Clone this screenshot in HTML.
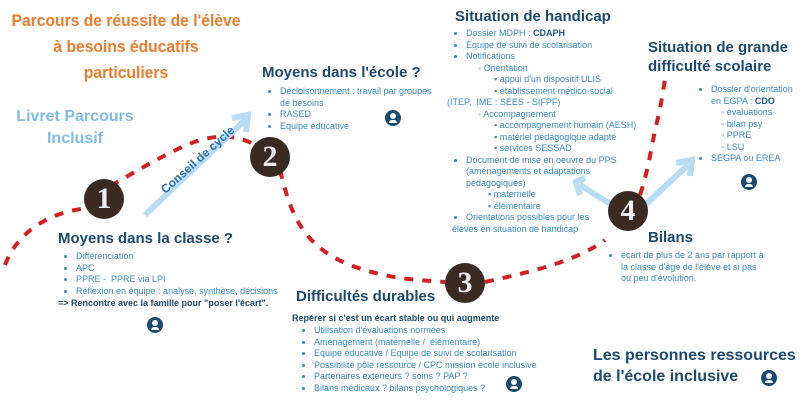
<!DOCTYPE html>
<html><head><meta charset="utf-8"><style>
body{margin:0;width:800px;height:400px;background:#fff;position:relative;overflow:hidden;font-family:"Liberation Sans",sans-serif}
.a{position:absolute}
.t{color:#1a4a70;font-weight:bold}
.s{color:#3a8ac0;font-size:9px;line-height:11.5px}
.s ul{margin:0;padding-left:14px}
.num{position:absolute;width:40px;height:40px;border-radius:50%;background:#3a2a22;color:#eee;font:bold 30px "Liberation Serif",serif;text-align:center;line-height:40px}
.ic{position:absolute;width:16px;height:16px;border-radius:50%;background:#1a4a70}
.ic:after{content:"";position:absolute;left:5px;top:3px;width:6px;height:6px;border-radius:50%;background:#fff}
.ic:before{content:"";position:absolute;left:4px;top:10px;width:8px;height:3px;background:#fff;border-radius:3px 3px 0 0}
</style></head><body>
<svg class="a" style="left:0;top:0" width="800" height="400">
<path d="M5,265 C20,225 60,210 90,208 M95,195 C130,175 170,150 200,140 C230,132 250,140 262,150 M280,170 C290,210 300,245 350,265 C390,280 420,280 445,282 M485,282 C530,272 575,262 605,240 M640,195 C650,165 652,140 658,118 C662,100 663,90 665,80" fill="none" stroke="#d42020" stroke-width="4" stroke-dasharray="9,9"/>
<g stroke="#b8dcf4" stroke-width="6" fill="none">
<path d="M145,215 L245,120"/><path d="M232,118 L248,115 L246,132"/>
<path d="M612,205 L580,185"/><path d="M585,178 L576,182 L580,195"/>
<path d="M645,205 L688,165"/><path d="M676,163 L692,160 L690,176"/>
</g>
</svg>
<div class="a" style="left:-24px;top:8px;width:300px;text-align:center;color:#ee7a2a;font-weight:bold;font-size:17px;line-height:26px;white-space:nowrap;transform:scaleX(.92)">Parcours de réussite de l'élève<br>à besoins éducatifs<br>particuliers</div>
<div class="a" style="left:10px;top:106px;width:130px;text-align:center;color:#7fbde6;font-weight:bold;font-size:16px;line-height:22px">Livret Parcours<br>Inclusif</div>
<div class="a t" style="left:158px;top:186px;font-size:12px;color:#2a70b0;transform:rotate(-42deg);transform-origin:0 0;white-space:nowrap">Conseil de cycle</div>
<div class="num" style="left:84px;top:179px">1</div>
<div class="num" style="left:250px;top:137px">2</div>
<div class="num" style="left:445px;top:263px">3</div>
<div class="num" style="left:608px;top:191px">4</div>
<div class="a t" style="left:58px;top:230px;font-size:15px">Moyens dans la classe ?</div>
<div class="a s" style="left:62px;top:251px"><ul><li>Différenciation</li><li>APC</li><li>PPRE - &nbsp;PPRE via LPI</li><li>Réflexion en équipe : analyse, synthèse, décisions</li></ul></div>
<div class="a t" style="left:58px;top:298px;font-size:9px">=&gt; Rencontre avec la famille pour "poser l'écart".</div>
<div class="ic" style="left:147px;top:317px"></div>
<div class="a t" style="left:262px;top:64px;font-size:15px">Moyens dans l'école ?</div>
<div class="a s" style="left:266px;top:86px"><ul><li>Décloisonnement : travail par groupes<br>de besoins</li><li>RASED</li><li>Equipe éducative</li></ul></div>
<div class="ic" style="left:385px;top:110px"></div>
<div class="a t" style="left:296px;top:288px;font-size:15px">Difficultés durables</div>
<div class="a t" style="left:292px;top:313px;font-size:9px">Repérer si c'est un écart stable ou qui augmente</div>
<div class="a s" style="left:300px;top:325px"><ul><li>Utilisation d'évaluations normées</li><li>Aménagement (maternelle / &nbsp;élémentaire)</li><li>Equipe éducative / Equipe de suivi de scolarisation</li><li>Possibilité pôle ressource / CPC mission école inclusive</li><li>Partenaires extérieurs ? soins ? PAP ?</li><li>Bilans médicaux ? bilans psychologiques ?</li></ul></div>
<div class="ic" style="left:506px;top:376px"></div>
<div class="a t" style="left:455px;top:8px;font-size:15px">Situation de handicap</div>
<div class="a s" style="left:452px;top:28px;width:200px">
<ul><li>Dossier MDPH : <b style="color:#1a5a90">CDAPH</b></li><li>Equipe de suivi de scolarisation</li><li>Notifications
<div style="padding-left:12px">◦ Orientation<div style="padding-left:16px">▪ appui d'un dispositif ULIS<br>▪ établissement médico-social</div></div></li></ul>
<div style="margin-left:-5px">(ITEP, &nbsp;IME : SEES - SIFPF)</div>
<div style="padding-left:26px">◦ Accompagnement<div style="padding-left:16px">▪ accompagnement humain (AESH)<br>▪ matériel pédagogique adapté<br>▪ services SESSAD</div></div>
<ul><li>Document de mise en oeuvre du PPS<br>(aménagements et adaptations<br>pédagogiques)<div style="padding-left:22px">▪ maternelle<br>▪ élémentaire</div></li><li>Orientations possibles pour les</li></ul>
<div>élèves en situation de handicap</div></div>
<div class="a t" style="left:648px;top:38px;font-size:15px;line-height:19px">Situation de grande<br>difficulté scolaire</div>
<div class="a s" style="left:697px;top:84px"><ul><li>Dossier d'orientation<br>en EGPA : <b style="color:#1a5a90">CDO</b><div style="padding-left:10px">◦ évaluations<br>◦ bilan psy<br>◦ PPRE<br>◦ LSU</div></li><li>SEGPA ou EREA</li></ul></div>
<div class="ic" style="left:741px;top:174px"></div>
<div class="a t" style="left:648px;top:229px;font-size:15px">Bilans</div>
<div class="a s" style="left:607px;top:250px"><ul><li>écart de plus de 2 ans par rapport à<br>la classe d'âge de l'élève et si pas<br>ou peu d'évolution.</li></ul></div>
<div class="a t" style="left:593px;top:345px;font-size:16px;line-height:21px">Les personnes ressources<br>de l'école inclusive</div>
<div class="ic" style="left:761px;top:370px"></div>
</body></html>
